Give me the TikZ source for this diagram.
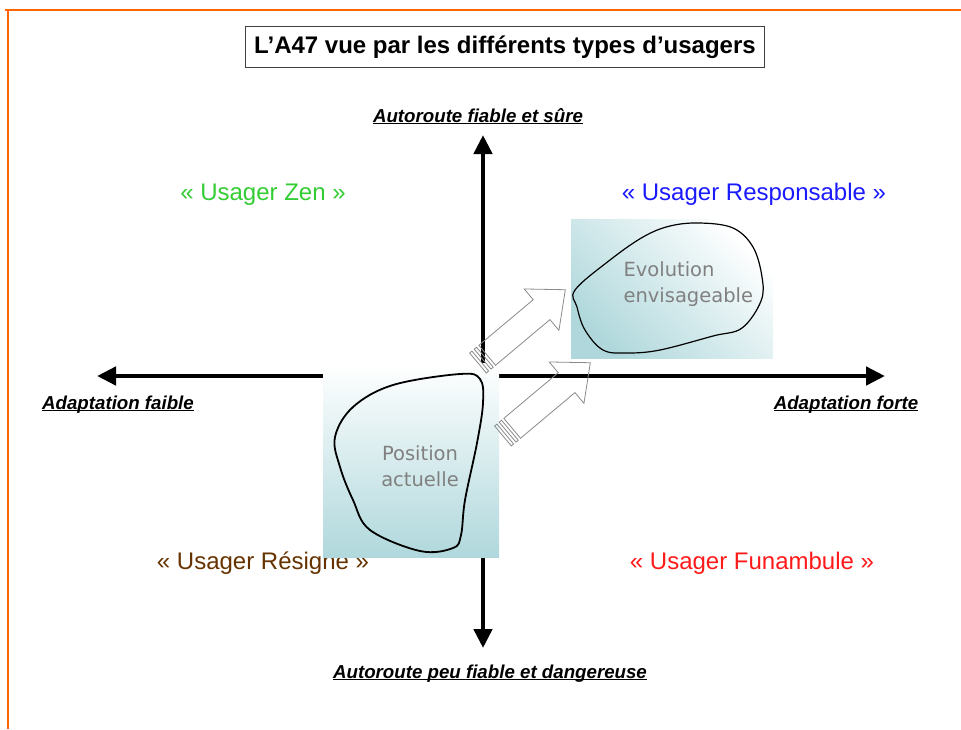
\documentclass[tikz,border=0pt]{standalone}
\usepackage{fontspec}
\setmainfont{Liberation Sans}
\newfontfamily\handfont{DejaVu Sans}
\usepackage{tikz}
\usetikzlibrary{positioning,arrows.meta,calc}
\definecolor{cFrame}{HTML}{FF6600}
\definecolor{cZen}{HTML}{33CC33}
\definecolor{cResp}{HTML}{1A1AFF}
\definecolor{cResig}{HTML}{663300}
\definecolor{cFunam}{HTML}{FF1A1A}
\definecolor{cShade}{HTML}{B0D8DC}
\definecolor{cBlobTxt}{HTML}{808080}
\definecolor{cHollow}{HTML}{8A8A8A}
\newcommand{\axtext}[1]{\underline{\smash{#1}}}
\tikzset{
  frame/.style   ={draw=cFrame, line width=1.6pt},
  titlebox/.style={draw=black!75, line width=0.9pt, inner xsep=9pt,
                   minimum height=41pt, font=\fontsize{24}{27}\selectfont\bfseries},
  axis/.style    ={line width=4.5pt,
                   {Triangle[length=19pt,width=18pt]}-{Triangle[length=19pt,width=18pt]}},
  axlbl/.style   ={anchor=base, inner sep=0pt,
                   font=\fontsize{18.7}{21}\selectfont\bfseries\itshape},
  quad/.style    ={anchor=base, inner sep=0pt, font=\fontsize{24}{28}\selectfont},
  zone/.style    ={draw=none, inner sep=0pt},
  blob/.style    ={draw=black, line width=1.2pt},
  blobtxt/.style ={font=\handfont\fontsize{19.5}{26}\selectfont, text=cBlobTxt},
  hollow/.style  ={draw=cHollow, line width=0.8pt, line join=miter},
  pics/stripedarrow/.style={code={
    \draw[hollow] (0,-13) rectangle (3,13);
    \draw[hollow] (6,-13) rectangle (9,13);
    \draw[hollow] (12,-13) -- (83,-13) -- (83,-27) -- (114,0)
                  -- (83,27) -- (83,13) -- (12,13) -- cycle;
  }},
}

\begin{document}
\begin{tikzpicture}[x=1pt, y=-1pt]
  \useasboundingbox (0,0) rectangle (961,729);

  % ---- page frame ----
  \draw[frame] (5,10) -- (961,10);
  \draw[frame] (8,10) -- (8,729);

  % ---- title ----
  \node[titlebox] (title) at (505,47)
    {L’A47 vue par les différents types d’usagers};

  % ---- axes ----
  \coordinate (axTop)   at (483,135);
  \coordinate (axBot)   at (483,648);
  \coordinate (axLeft)  at (97,376);
  \coordinate (axRight) at (885,376);
  \draw[axis] (axBot) -- (axTop);
  \draw[axis] (axLeft) -- (axRight);

  \node[axlbl] (lblTop)   at (478,122) {\axtext{Autoroute fiable et sûre}};
  \node[axlbl] (lblBot)   at (490,678) {\axtext{Autoroute peu fiable et dangereuse}};
  \node[axlbl] (lblLeft)  at (118,409) {\axtext{Adaptation faible}};
  \node[axlbl] (lblRight) at (846,409) {\axtext{Adaptation forte}};

  % ---- quadrants ----
  \node[quad, text=cZen]   (zen)   at (263,200) {« Usager Zen »};
  \node[quad, text=cResp]  (resp)  at (754,200) {« Usager Responsable »};
  \node[quad, text=cResig] (resig) at (263,569) {« Usager Résigné »};
  \node[quad, text=cFunam] (funam) at (752,569) {« Usager Funambule »};

  % ---- current position ----
  \node[zone, minimum width=176pt, minimum height=194pt,
        top color=white, bottom color=cShade] (nowZone) at (411,460) {};
  \draw[blob, line width=1.8pt] plot[smooth cycle, tension=0.6] coordinates {
    (460,374) (393,385) (353,407) (335,437) (340,467) (353,500) (370,530)
    (420,551) (453,548) (461,535) (465,500) (477,443) (483,403) (480,379)};
  \node[blobtxt, align=center] (now) at (420,466) {Position\\actuelle};

  % ---- foreseen evolution ----
  \node[zone, minimum width=202pt, minimum height=139pt,
        top color=white, bottom color=cShade, shading angle=-45] (nextZone) at (672,288.5) {};
  \draw[blob] plot[smooth cycle, tension=0.6] coordinates {
    (575,290) (610,260) (643,237) (670,226) (700,223) (733,228) (753,247)
    (762,277) (761,301) (742,328) (713,336) (660,350) (627,353) (603,350)
    (585,330) (577,307)};
  \node[blobtxt, align=left, anchor=west] (next) at (620,284) {Evolution\\envisageable};

  % ---- shift arrows ----
  \coordinate (arrA) at (478,363);
  \coordinate (arrB) at (503,436);
  \pic[rotate=40] at (arrA) {stripedarrow};
  \pic[rotate=40] at (arrB) {stripedarrow};

\end{tikzpicture}
\end{document}
